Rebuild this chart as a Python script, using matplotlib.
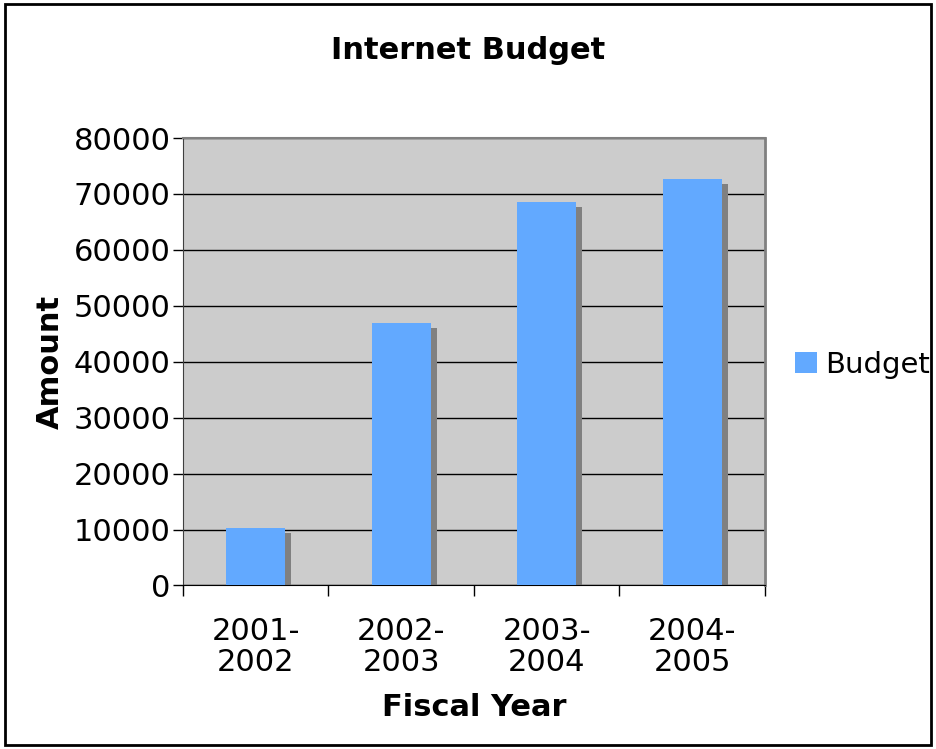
import numpy as np
import matplotlib
matplotlib.use("Agg")
import matplotlib.pyplot as plt
import matplotlib.transforms as mtransforms
from matplotlib.patches import Rectangle

# data
years = ["2001-\n2002", "2002-\n2003", "2003-\n2004", "2004-\n2005"]
budget = [10300, 47000, 68500, 72700]
yticks = [0, 10000, 20000, 30000, 40000, 50000, 60000, 70000, 80000]

bar_color = "#62a9ff"
shadow_color = "#808080"

fig = plt.figure(figsize=(9.36, 7.49), dpi=100)
ax = fig.add_axes([0.1955, 0.2183, 0.8173 - 0.1955, 0.8157 - 0.2183])
ax.set_facecolor("#cccccc")

xs = np.arange(len(years))
width = 0.405

# shadow: same bars shifted right/down by a few pixels
shadow_tr = ax.transData + mtransforms.ScaledTranslation(6 / 100, -5 / 100, fig.dpi_scale_trans)
ax.bar(xs, budget, width=width, color=shadow_color, transform=shadow_tr, zorder=2)
ax.bar(xs, budget, width=width, color=bar_color, zorder=3, label="Budget")

ax.set_xlim(-0.5, len(years) - 0.5)
ax.set_ylim(0, 80000)
ax.set_yticks(yticks)
ax.set_yticklabels([str(v) for v in yticks], fontsize=22)
ax.yaxis.grid(True, color="black", linewidth=1.0, zorder=1)
ax.set_axisbelow(True)

# ticks at category boundaries, labels at centres
ax.set_xticks(np.arange(len(years) + 1) - 0.5)
ax.set_xticklabels([])
ax.set_xticks(xs, minor=True)
ax.set_xticklabels(years, minor=True, fontsize=22, linespacing=1.05)
ax.tick_params(axis="x", which="minor", length=0, pad=23)
ax.tick_params(axis="x", which="major", direction="out", length=8, width=1)
ax.tick_params(axis="y", direction="out", length=7, width=1, pad=2)

for side in ["top", "right"]:
    ax.spines[side].set_color("#808080")
ax.spines["top"].set_linewidth(1.5)
ax.spines["right"].set_linewidth(2)
ax.spines["left"].set_color("#404040")
ax.spines["bottom"].set_color("black")

ax.set_xlabel("Fiscal Year", fontsize=22, fontweight="bold", labelpad=12)
ax.set_ylabel("Amount", fontsize=22, fontweight="bold", labelpad=6)

fig.text(0.5, 0.933, "Internet Budget", ha="center", va="center", fontsize=22, fontweight="bold")

fig.legend(loc="center left", bbox_to_anchor=(0.821, 0.513), frameon=False,
           fontsize=21, handlelength=0.75, handleheight=0.75, handletextpad=0.3)

# outer border
fig.patches.append(Rectangle((0.005, 0.006), 0.99, 0.988, transform=fig.transFigure,
                             fill=False, edgecolor="black", linewidth=2))

fig.savefig("out.png", dpi=100)
